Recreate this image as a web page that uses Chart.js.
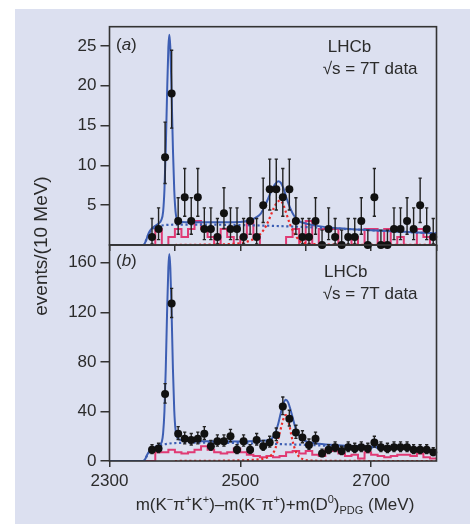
<!DOCTYPE html>
<html>
<head>
<meta charset="utf-8">
<script src="https://cdn.jsdelivr.net/npm/chart.js@4.4.1/dist/chart.umd.min.js"></script>
<style>
  html, body { margin:0; padding:0; width:470px; height:524px; overflow:hidden; background:#ffffff; }
  #panel { position:absolute; left:15px; top:9px; width:455px; height:515px; background:#dce0f0; }
  .cv { position:absolute; left:0; top:0; }
</style>
</head>
<body>
<div id="panel"></div>
<canvas id="chartA" class="cv" width="470" height="524"></canvas>
<canvas id="chartB" class="cv" width="470" height="524"></canvas>
<script>
// ---------------- data ----------------
const binCenters = [2365,2375,2385,2395,2405,2415,2425,2435,2445,2455,2465,2475,2485,2495,2505,2515,2525,2535,2545,2555,2565,2575,2585,2595,2605,2615,2625,2635,2645,2655,2665,2675,2685,2695,2705,2715,2725,2735,2745,2755,2765,2775,2785,2795];
// panel (a): events per bin
const countsA = [1,2,11,19,3,6,3,6,2,2,1,4,2,2,1,3,1,5,7,7,6,7,3,1,1,3,0,2,1,0,1,1,3,0,6,0,0,2,2,3,2,5,2,1];
// panel (b): events per bin
const countsB = [9,10,54,127,22,18,17,18,22,12,16,16,20,9,16,9,17,12,15,21,44,34,23,19,13,18,6,9,11,8,11,10,11,10,15,11,10,11,11,11,9,9,9,7];
// pink histograms (same bins)
const histA = [0,2,0,1,2,1,2,3,2,1,0,2,1,0,1,3,1,0,0,0,0,1,2,0,3,0,2,2,2,0,0,1,0,2,2,0,2,0,1,0,0,2,1,0];
const histB = [0,7,7,9,7,6,7,9,12,9,7,6,7,10,7,5,4,3,4,3,4,7,8,6,8,5,4,9,8,6,4,5,2,7,5,4,3,4,5,5,4,6,3,2];

// fitted curves
const fitA_m = [2300,2352,2356,2360,2365,2370,2375,2379,2382,2384,2386,2388,2390,2391.5,2393,2395,2397,2399,2401,2404,2410,2450,2500,2515,2525,2531,2537,2543,2548,2553,2558,2562,2566,2571,2576,2582,2590,2600,2617,2650,2700,2750,2800];
const fitA_v = [0,0,0.6,1.5,2.1,2.4,2.7,3.1,4.2,6.9,12,18.9,24.8,26.4,24.8,18.9,12,6.9,4.2,3.1,2.9,2.85,2.9,3.1,3.5,3.9,4.8,5.9,6.9,7.6,8.0,7.8,7.1,5.8,4.7,3.7,3.0,2.7,2.4,2.1,1.85,1.65,1.45];
const bgA_m = [2300,2352,2356,2360,2365,2370,2380,2400,2450,2500,2550,2600,2650,2700,2750,2800];
const bgA_v = [0,0,0.6,1.4,1.95,2.25,2.45,2.55,2.55,2.5,2.4,2.25,2.05,1.85,1.65,1.45];
const sigA_m = [2400,2450,2490,2505,2515,2525,2533,2540,2546,2551,2556,2561,2566,2571,2576,2581,2586,2591,2600,2650,2800];
const sigA_v = [0,0.05,0.15,0.3,0.55,0.95,1.6,2.5,3.6,4.6,5.3,5.6,5.0,3.8,2.6,1.7,1.0,0.5,0.2,0.05,0];

const fitB_m = [2300,2352,2355,2358,2362,2366,2370,2374,2378,2380,2382,2384,2386,2388,2390,2391.5,2393,2395,2397,2399,2401,2404,2410,2420,2450,2500,2525,2540,2548,2553,2558,2562,2566,2569.5,2573,2577,2581,2586,2591,2598,2608,2620,2650,2700,2750,2800];
const fitB_v = [0,0,2,5.5,8.5,10,11.3,12.5,14,15.5,22.5,40,74,119,156,167,156,119,74,41,25,18.5,16.8,16.2,16,15.8,16.2,16.5,18,22,30,39,46.5,49.5,47.5,41,33,24,19.5,16.5,15,14,12.8,11.5,10,8.3];
const bgB_m = [2300,2352,2355,2358,2362,2366,2370,2380,2390,2400,2450,2500,2550,2600,2650,2700,2750,2800];
const bgB_v = [0,0,2,5,8,10,11,13,14,14.5,14.8,14.5,13.8,13,12,11,9.8,8.3];
const sigB_m = [2400,2480,2510,2530,2540,2547,2552,2556,2560,2564,2567,2569.5,2572,2575,2578,2581,2585,2590,2597,2610,2650,2800];
const sigB_v = [0,0.3,0.7,1.5,2.6,4.5,8,14,22,30.5,35.5,37,35,29,21,14,7.5,3.5,1.2,0.3,0.05,0];

// axis ticks
const xTicksA = [2300,2400,2500,2600,2700,2800];
const xTicksB = [2300,2500,2700];
const yTicksA = [5,10,15,20,25];
const yTicksB = [0,40,80,120,160];

// ---------------- helpers ----------------
const FONT = "'Liberation Sans', Arial, sans-serif";
const INK = '#2b2b2b';
const BLUE = '#3d5eb3';
const PINK = '#e03a74';
const RED = '#ec2a2a';
const BIN = 10;

function pairs(ms, vs){ return ms.map((m,i)=>({x:m, y:vs[i]})); }
function histPoints(centers, vals){
  const pts = [{x:2300, y:0}];
  centers.forEach((c,i)=>pts.push({x:c-BIN/2, y:vals[i]}));
  pts.push({x:centers[centers.length-1]+BIN/2, y:vals[vals.length-1]});
  return pts;
}
function poissonInterval(n){
  const lo = n > 0 ? n - Math.sqrt(n - 0.25) : 0;
  const hi = n + 1 + Math.sqrt(n + 0.75);
  return [lo, hi];
}
function errorSegments(centers, counts, cap){
  const pts = [];
  centers.forEach((m,i)=>{
    const n = counts[i];
    const [lo,hi] = poissonInterval(n);
    pts.push({x:m,y:lo},{x:m,y:hi},{x:m,y:null});
    pts.push({x:m-cap,y:hi},{x:m+cap,y:hi},{x:m,y:null});
    if (n > 0) pts.push({x:m-cap,y:lo},{x:m+cap,y:lo},{x:m,y:null});
  });
  return pts;
}
function datasets(counts, hist, fm, fv, bm, bv, sm, sv){
  return [
    { data: pairs(binCenters, counts), showLine:false, pointRadius:4, pointBackgroundColor:'#111', pointBorderColor:'#111', pointBorderWidth:0, order:0, clip:false },
    { data: errorSegments(binCenters, counts, 2.5), borderColor:'#222', borderWidth:1.4, pointRadius:0, spanGaps:false, order:1, clip:false },
    { data: pairs(fm, fv), borderColor:BLUE, borderWidth:2, pointRadius:0, cubicInterpolationMode:'monotone', order:2 },
    { data: pairs(bm, bv), borderColor:BLUE, borderWidth:2.2, borderDash:[2.2,2.6], pointRadius:0, cubicInterpolationMode:'monotone', order:3 },
    { data: pairs(sm, sv), borderColor:RED, borderWidth:2.2, borderDash:[2.2,2.6], pointRadius:0, cubicInterpolationMode:'monotone', order:4 },
    { data: histPoints(binCenters, hist), borderColor:PINK, borderWidth:2, pointRadius:0, stepped:'before', order:5 }
  ];
}

const framePlugin = {
  id:'frame',
  afterDatasetsDraw(chart){
    const a = chart.chartArea, ctx = chart.ctx;
    ctx.save();
    ctx.strokeStyle = '#333';
    ctx.lineWidth = 1.6;
    ctx.strokeRect(a.left, a.top, a.right - a.left, a.bottom - a.top);
    ctx.restore();
  }
};

function drawRuns(ctx, runs, x, y, align){
  let total = 0;
  runs.forEach(r=>{ ctx.font = (r.style||'') + ' ' + r.size + 'px ' + FONT; total += ctx.measureText(r.t).width; });
  let cx = align === 'center' ? x - total/2 : x;
  runs.forEach(r=>{
    ctx.font = (r.style||'') + ' ' + r.size + 'px ' + FONT;
    ctx.fillText(r.t, cx, y + (r.dy||0));
    cx += ctx.measureText(r.t).width;
  });
}

function labelPlugin(tag, lhcbX, lhcbY, rootX, rootY, tagX, tagY, extra){
  return {
    id:'labels',
    afterDraw(chart){
      const ctx = chart.ctx;
      ctx.save();
      ctx.fillStyle = INK;
      ctx.textBaseline = 'alphabetic';
      drawRuns(ctx, [{t:'(',size:17},{t:tag,size:17,style:'italic'},{t:')',size:17}], tagX, tagY, 'left');
      drawRuns(ctx, [{t:'LHCb',size:17}], lhcbX, lhcbY, 'left');
      drawRuns(ctx, [{t:'\u221As = 7T data',size:17}], rootX, rootY, 'left');
      if (extra) extra(ctx);
      ctx.restore();
    }
  };
}

function axisTitles(ctx){
  // x-axis title
  const N = 17, S = 11;
  drawRuns(ctx, [
    {t:'m(K',size:N},{t:'\u2212',size:S,dy:-7},{t:'\u03C0',size:N},{t:'+',size:S,dy:-7},{t:'K',size:N},{t:'+',size:S,dy:-7},
    {t:')\u2013m(K',size:N},{t:'\u2212',size:S,dy:-7},{t:'\u03C0',size:N},{t:'+',size:S,dy:-7},
    {t:')+m(D',size:N},{t:'0',size:S,dy:-7},{t:')',size:N},{t:'PDG',size:S,dy:4},{t:' (MeV)',size:N}
  ], 275, 510, 'center');
  // y-axis title
  ctx.save();
  ctx.translate(47, 246);
  ctx.rotate(-Math.PI/2);
  ctx.textAlign = 'center';
  ctx.font = '19px ' + FONT;
  ctx.fillText('events/(10 MeV)', 0, 0);
  ctx.restore();
}

Chart.defaults.font.family = FONT;
Chart.defaults.font.size = 17;
Chart.defaults.color = INK;

function makeOptions(yMin, yMax, yTicks, xTicks, xHeight, showXLabels, pad){
  return {
    responsive:false, animation:false,
    layout:{ padding: pad },
    plugins:{ legend:{display:false}, tooltip:{enabled:false} },
    scales:{
      x:{
        type:'linear', min:2300, max:2800,
        afterBuildTicks(s){ s.ticks = xTicks.map(v=>({value:v})); },
        afterFit(s){ s.height = xHeight; },
        ticks:{ display:showXLabels, padding:4, color:INK, font:{size:17}, maxRotation:0, autoSkip:false, callback:(v)=>String(v) },
        grid:{ drawOnChartArea:false, drawTicks:true, tickLength:6, color:'#333', lineWidth:1.5 },
        border:{ display:false }
      },
      y:{
        min:yMin, max:yMax,
        afterBuildTicks(s){ s.ticks = yTicks.map(v=>({value:v})); },
        afterFit(s){ s.width = 60; },
        ticks:{ padding:4, color:INK, font:{size:17}, callback:(v)=>String(v) },
        grid:{ drawOnChartArea:false, drawTicks:true, tickLength:9, color:'#333', lineWidth:1.5 },
        border:{ display:false }
      }
    }
  };
}

new Chart(document.getElementById('chartA'), {
  type:'line',
  data:{ datasets: datasets(countsA, histA, fitA_m, fitA_v, bgA_m, bgA_v, sigA_m, sigA_v) },
  options: makeOptions(0, 27.4, yTicksA, xTicksA, 0, false, {left:49.5, right:33.5, top:26.7, bottom:279}),
  plugins:[framePlugin, labelPlugin('a', 327.7, 52.3, 322.7, 74, 116, 49.7)]
});

new Chart(document.getElementById('chartB'), {
  type:'line',
  data:{ datasets: datasets(countsB, histB, fitB_m, fitB_v, bgB_m, bgB_v, sigB_m, sigB_v) },
  options: makeOptions(0, 174.3, yTicksB, xTicksB, 63, true, {left:49.5, right:33.5, top:245, bottom:0}),
  plugins:[framePlugin, labelPlugin('b', 324, 276.7, 322.7, 299.3, 116, 266.4, axisTitles)]
});
</script>
</body>
</html>
